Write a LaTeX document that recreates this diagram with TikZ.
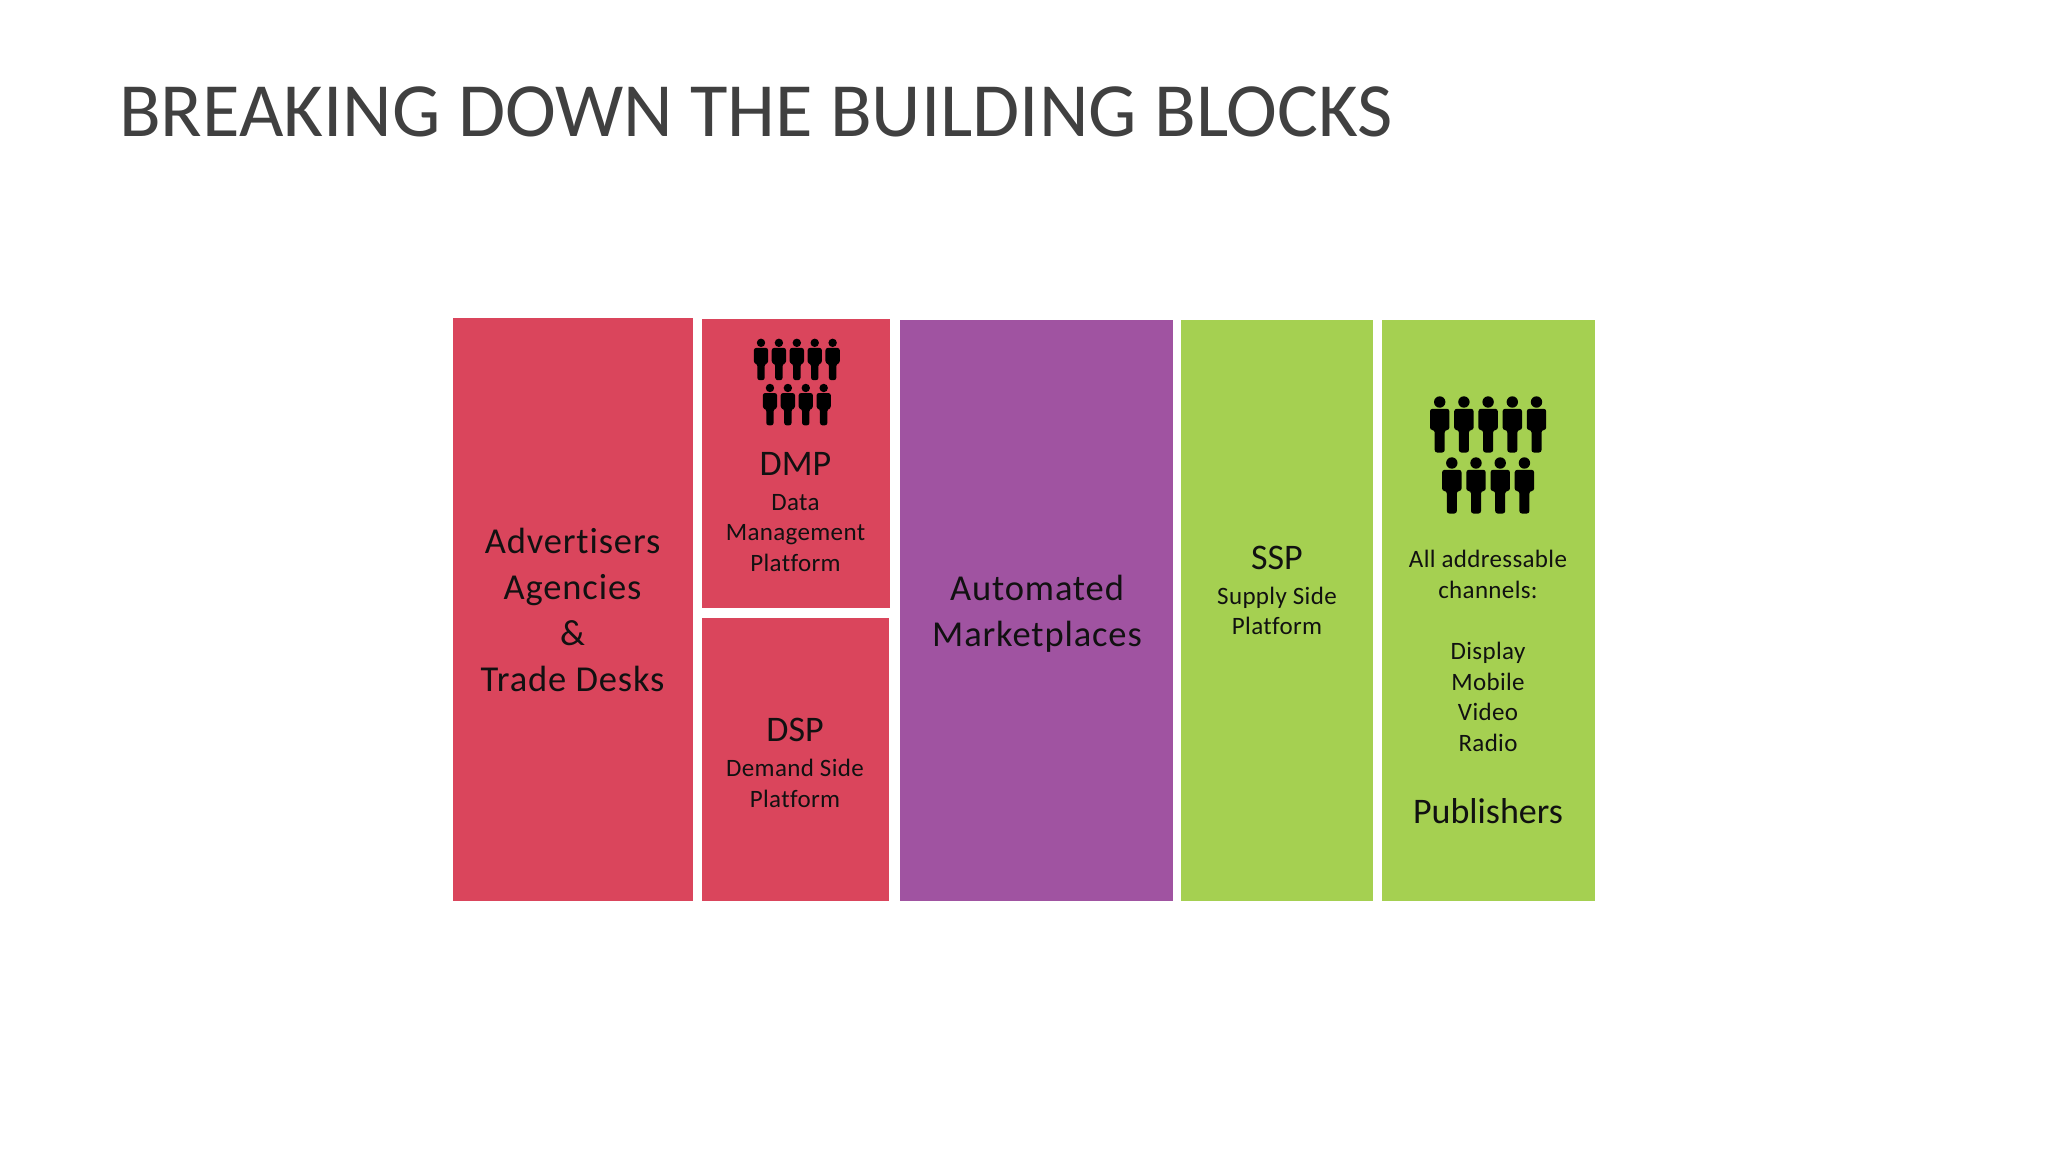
\documentclass[tikz,border=0pt]{standalone}
\usepackage{fontspec}
\setmainfont[Ligatures=NoCommon]{Carlito}
\newfontfamily\bigfam[LetterSpace=2.4,Ligatures=NoCommon]{Carlito}
\newfontfamily\smallfam[LetterSpace=1.4,Ligatures=NoCommon]{Carlito}
\definecolor{crimson}{HTML}{DA455C}
\definecolor{plum}{HTML}{A053A1}
\definecolor{lime}{HTML}{A5D051}
\definecolor{titlegrey}{HTML}{404040}
\definecolor{ink}{HTML}{111111}
\tikzset{
  x=1pt,y=-1pt,
  block/.style={draw=none,inner sep=0pt,outer sep=0pt,anchor=north west},
  bigtext/.style={text=ink,align=center,inner sep=0pt,font=\bigfam\fontsize{36.5}{46}\selectfont},
  plainbig/.style={text=ink,align=center,inner sep=0pt,font=\fontsize{36}{46}\selectfont},
  smalltext/.style={text=ink,align=center,inner sep=0pt,font=\smallfam\fontsize{25}{30.6}\selectfont},
  person/.pic={
    \fill[black] (0,-20.5) circle (5.7);
    \fill[black,rounded corners=2.5pt] (-9.7,-13.7) -- (9.7,-13.7) -- (9.7,7.5) -- (5,7.5) -- (5,30) -- (-5,30) -- (-5,7.5) -- (-9.7,7.5) -- cycle;
  },
}
\newcommand{\crowd}[3]{% x, y of first row origin, scale
  \foreach \i in {0,1,2,3,4}{\pic[scale=#3] at ({#1+\i*24.2*#3},{#2}) {person};}
  \foreach \i in {0,1,2,3}{\pic[scale=#3] at ({#1+(\i+.5)*24.2*#3},{#2+61*#3}) {person};}
}
\begin{document}
\begin{tikzpicture}
\useasboundingbox (0,0) rectangle (2048,1152);
\fill[white] (0,0) rectangle (2048,1152);
\node[anchor=base west,inner sep=0pt,text=titlegrey,font=\fontsize{76.7}{88}\selectfont] (title) at (119,136) {BREAKING DOWN THE BUILDING BLOCKS};
\node[block,fill=crimson,minimum width=239.5pt,minimum height=583pt] (adv) at (453,318) {};
\node[block,fill=crimson,minimum width=188pt,minimum height=289pt] (dmp) at (701.5,318.5) {};
\node[block,fill=crimson,minimum width=187pt,minimum height=283pt] (dsp) at (701.5,618) {};
\node[block,fill=plum,minimum width=273pt,minimum height=581pt] (mkt) at (900,320) {};
\node[block,fill=lime,minimum width=192pt,minimum height=581pt] (ssp) at (1181,320) {};
\node[block,fill=lime,minimum width=213pt,minimum height=581pt] (pub) at (1382,320) {};
\node[bigtext] (advt) at (572.5,610) {Advertisers\\Agencies\\\&\\Trade Desks};
\node[plainbig] (dmpt) at (795.5,464) {DMP};
\node[smalltext] (dmps) at (795.5,533) {Data\\Management\\Platform};
\node[plainbig] (dspt) at (795,730) {DSP};
\node[smalltext] (dsps) at (795,783.5) {Demand Side\\Platform};
\node[bigtext] (mktt) at (1037,614) {Automated\\Marketplaces};
\node[plainbig] (sspt) at (1277,558) {SSP};
\node[smalltext] (ssps) at (1277,611) {Supply Side\\Platform};
\node[smalltext] (pubs) at (1488,651) {All addressable\\channels:\\[30.6pt]Display\\Mobile\\Video\\Radio};
\node[plainbig] (pubt) at (1488,811) {Publishers};
\crowd{761}{358}{0.74}
\crowd{1439.7}{422.5}{1}
\end{tikzpicture}
\end{document}
